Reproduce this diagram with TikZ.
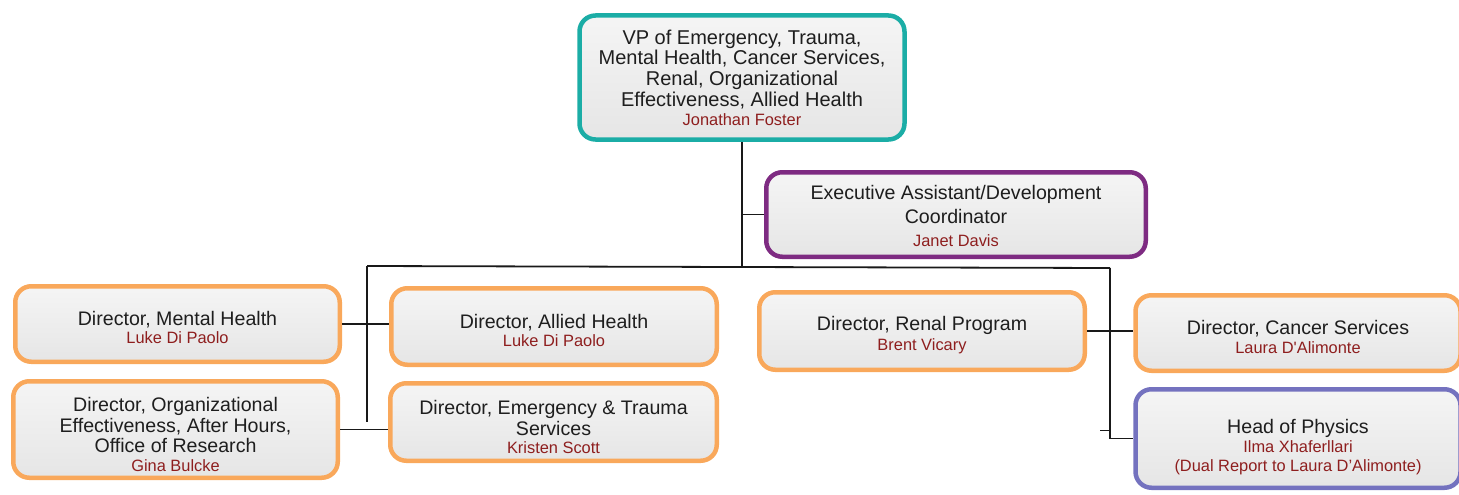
\documentclass[tikz,border=0pt]{standalone}
\usepackage{fontspec}
\setmainfont{Liberation Sans}
\usetikzlibrary{calc}
\definecolor{teal1}{HTML}{1BADA6}
\definecolor{purp1}{HTML}{7E2B82}
\definecolor{orng1}{HTML}{F9A85B}
\definecolor{slate1}{HTML}{7472BF}
\definecolor{nmred}{HTML}{8E1E1E}
\definecolor{txt}{HTML}{1E1E1E}
\newcommand{\nm}[1]{{\fontsize{16.4}{19}\selectfont\color{nmred}#1}}
\newcommand{\up}[1]{\rule{0pt}{#1}}
\tikzset{
  box/.style={draw, rectangle, rounded corners=16pt, line width=4.5pt,
    top color=white!96!black, bottom color=white!90!black,
    align=center, text=txt, font=\fontsize{19.6}{20.5}\selectfont, inner sep=2pt},
  conn/.style={line width=1.8pt, draw=black!90}
}
\begin{document}
\begin{tikzpicture}[x=1pt,y=-1pt]
\useasboundingbox (0,0) rectangle (1459,495);
\node[box, draw=teal1, minimum width=325pt, minimum height=124pt, font=\fontsize{20}{20.5}\selectfont] (vp) at (742,77.5)
  {VP of Emergency, Trauma,\\ Mental Health, Cancer Services,\\ Renal, Organizational\\[1pt] Effectiveness, Allied Health\\[-2pt] \nm{Jonathan Foster}};
\node[box, draw=purp1, minimum width=379.5pt, minimum height=84.5pt] (ea) at (956,214.5)
  {\up{17pt}Executive Assistant/Development\\[4pt] Coordinator\\[2pt] \nm{Janet Davis}};
\node[box, draw=orng1, minimum width=324.5pt, minimum height=75.5pt] (mh) at (177.5,324)
  {\up{21pt}Director, Mental Health\\[-2pt] \nm{Luke Di Paolo}};
\node[box, draw=orng1, minimum width=324.5pt, minimum height=96.5pt] (oe) at (175.5,429.5)
  {\up{24pt}Director, Organizational\\ Effectiveness, After Hours,\\ Office of Research\\[-2pt] \nm{Gina Bulcke}};
\node[box, draw=orng1, minimum width=325.5pt, minimum height=76.5pt] (ah) at (554,326.5)
  {\up{22pt}Director, Allied Health\\[-2pt] \nm{Luke Di Paolo}};
\node[box, draw=orng1, minimum width=326.5pt, minimum height=77.5pt] (et) at (553.5,422)
  {\up{25pt}Director, Emergency \& Trauma\\ Services\\[-2pt] \nm{Kristen Scott}};
\node[box, draw=orng1, minimum width=325.5pt, minimum height=77.5pt] (rn) at (922,331)
  {\up{22pt}Director, Renal Program\\[-1pt] \nm{Brent Vicary}};
\node[box, draw=orng1, minimum width=325pt, minimum height=75.5pt] (ca) at (1298,333)
  {\up{22pt}Director, Cancer Services\\[-2pt] \nm{Laura D\textquotesingle Alimonte}};
\node[box, draw=slate1, minimum width=325pt, minimum height=98.5pt] (ph) at (1298,438.5)
  {\up{32pt}Head of Physics\\[-2pt] \nm{Ilma Xhaferllari}\\[-1pt] \nm{(Dual Report to Laura D’Alimonte)}};
\coordinate (jL) at (367,266);
\coordinate (jM) at (vp.south |- jL);
\coordinate (jR) at (1110,268);
\draw[conn] (vp.south) -- (jM);
\draw[conn] (vp.south |- ea.west) -- (ea.west);
\draw[conn] (jL) -- (jR);
\draw[conn] (jL) -- (jL |- et.west);
\draw[conn] (mh.east) -- (mh.east -| ah.west);
\draw[conn] (oe.east) -- (oe.east -| et.west);
\draw[conn] (jR) |- (ph.west);
\draw[conn] (rn.east) -- (rn.east -| ca.west);
\coordinate (tk) at ($(jR |- ph.west)+(0,-8)$);
\draw[conn] (tk) -- ++(-10,0);
\end{tikzpicture}
\end{document}
